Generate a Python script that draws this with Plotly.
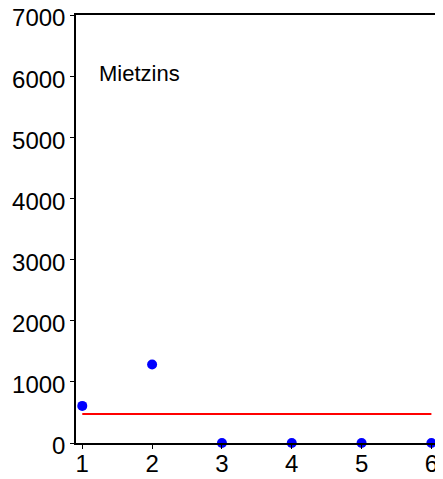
import plotly.graph_objects as go

periods = [1, 2, 3, 4, 5, 6]
rent = [607, 1285, 0, 0, 0, 0]
mean_rent = [475, 475, 475, 475, 475, 475]
label = "Mietzins"

fig = go.Figure()
fig.add_trace(go.Scatter(x=periods, y=mean_rent, mode="lines",
                         line=dict(color="#ff0000", width=2), cliponaxis=False))
fig.add_trace(go.Scatter(x=periods, y=rent, mode="markers",
                         marker=dict(color="#0000ff", size=10), cliponaxis=False))

fig.add_annotation(x=1.21, y=6044, text=label, showarrow=False, xanchor="left",
                   font=dict(size=22, color="black"))

# the page body adds an 8px margin, so the figure is a bit smaller than the window
axis = dict(showgrid=False, zeroline=False, showline=True, linecolor="black",
            linewidth=1.5, mirror=True, ticks="outside", ticklen=4,
            tickcolor="black", tickfont=dict(size=24, color="black"),
            automargin=False, ticklabeloverflow="allow")
fig.update_xaxes(range=[0.91, 6.08], tickvals=periods, ticklabelstandoff=-6, **axis)
# nudge y labels down a touch so the top "7000" is not cut at the page edge
fig.update_yaxes(range=[0, 7000], tickvals=list(range(0, 7001, 1000)),
                 ticklabelshift=3, **axis)

fig.update_layout(width=435, height=471, showlegend=False,
                  margin=dict(l=68, r=6, t=7, b=36),
                  plot_bgcolor="white", paper_bgcolor="white",
                  font=dict(family="Liberation Sans, Arial, sans-serif"))
fig.write_html("out.html")
